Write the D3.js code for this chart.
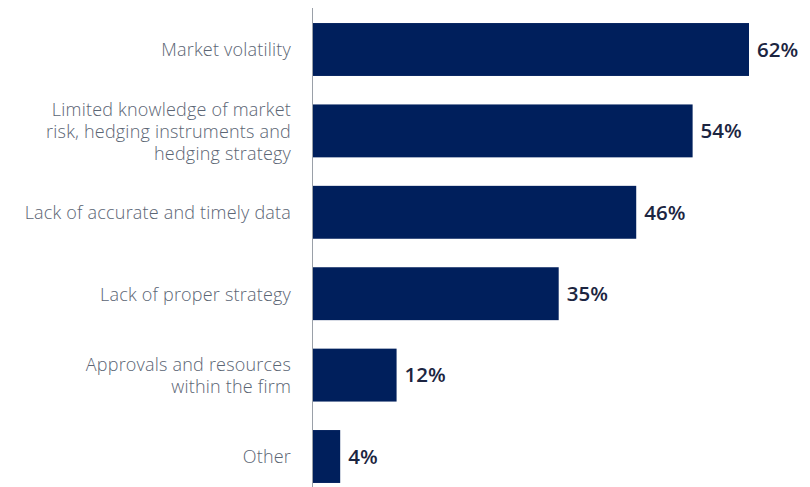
<!DOCTYPE html>
<html>
<head>
<meta charset="utf-8">
<script src="https://cdn.jsdelivr.net/npm/d3@7"></script>
<style>
  html, body { margin: 0; padding: 0; background: #fff; }
  svg { display: block; }
</style>
</head>
<body>
<svg id="chart" width="810" height="487"></svg>
<script>
const categories = [
  ["Market volatility"],
  ["Limited knowledge of market", "risk, hedging instruments and", "hedging strategy"],
  ["Lack of accurate and timely data"],
  ["Lack of proper strategy"],
  ["Approvals and resources", "within the firm"],
  ["Other"]
];
const values = [62, 54, 46, 35, 12, 4];
const valueLabels = ["62%", "54%", "46%", "35%", "12%", "4%"];

const svg = d3.select("#chart");
const axisX = 312;
const ids = d3.range(values.length);

const x = d3.scaleLinear().domain([0, 62]).range([axisX, 749]);
const y = d3.scaleBand().domain(ids).range([8.8, 497.2]).paddingInner(0.35).paddingOuter(0.175);

svg.append("line")
  .attr("x1", axisX + 0.5).attr("x2", axisX + 0.5)
  .attr("y1", 8).attr("y2", 487)
  .attr("stroke", "#9aa0a8").attr("stroke-width", 1);

svg.selectAll("rect.bar").data(ids).join("rect")
  .attr("class", "bar")
  .attr("x", x(0) + 1)
  .attr("y", d => y(d))
  .attr("width", d => x(values[d]) - x(0) - 1)
  .attr("height", y.bandwidth())
  .attr("fill", "#001f5c");

const lineH = 22;
const labels = svg.selectAll("text.cat").data(ids).join("text")
  .attr("class", "cat")
  .attr("text-anchor", "end")
  .attr("font-family", "'Open Sans', sans-serif")
  .attr("font-weight", 300)
  .attr("font-size", 18)
  .attr("letter-spacing", 0.2)
  .attr("fill", "#5b6574");
labels.each(function(d) {
  const lines = categories[d];
  const cy = y(d) + y.bandwidth() / 2;
  const startY = cy - (lines.length - 1) * lineH / 2;
  d3.select(this).selectAll("tspan").data(lines).join("tspan")
    .attr("x", axisX - 21)
    .attr("y", (l, i) => startY + i * lineH)
    .attr("dy", "0.38em")
    .text(l => l);
});

svg.selectAll("text.val").data(ids).join("text")
  .attr("class", "val")
  .attr("x", d => x(values[d]) + 8)
  .attr("y", d => y(d) + y.bandwidth() / 2)
  .attr("dy", "0.36em")
  .attr("font-family", "'Open Sans', sans-serif")
  .attr("font-weight", 600)
  .attr("font-size", 20.5)
  .attr("fill", "#1c2541")
  .text(d => valueLabels[d]);
</script>
</body>
</html>
